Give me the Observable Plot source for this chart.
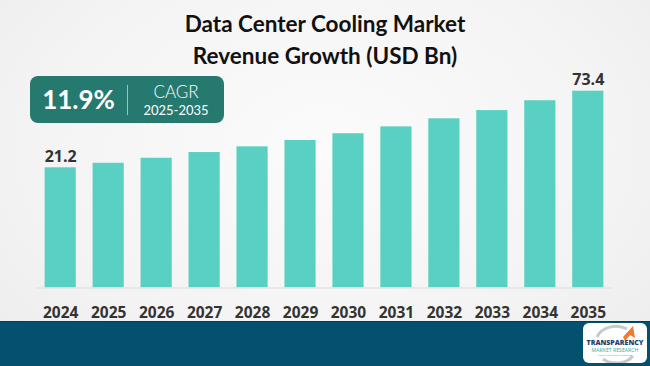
<!DOCTYPE html>
<html>
<head>
<meta charset="utf-8">
<script src="https://cdn.jsdelivr.net/npm/d3@7"></script>
<script src="https://cdn.jsdelivr.net/npm/@observablehq/plot@0.6"></script>
<style>
  html, body { margin: 0; padding: 0; }
  #page {
    position: relative; width: 650px; height: 366px; overflow: hidden;
    background: radial-gradient(ellipse at 50% 40%, #fbfbfb 0%, #f4f4f4 60%, #ececec 100%);
    font-family: "Open Sans", sans-serif;
  }
  #title {
    position: absolute; left: 0; top: 8px; width: 650px; text-align: center;
    font-family: Lato, sans-serif; font-weight: 700; font-size: 22.5px; line-height: 32px; color: #111;
  }
  #chart { position: absolute; left: 0; top: 0; }
  #cagr {
    position: absolute; left: 30px; top: 76px; width: 194px; height: 47px;
    background: #26796e; border-radius: 8px; color: #fff;
  }
  #cagr .big { position: absolute; left: 0; width: 97px; top: 6px; text-align: center;
    font-family: Lato, sans-serif; font-weight: 700; font-size: 26px; line-height: 34px; }
  #cagr .div { position: absolute; left: 97px; top: 9px; width: 1px; height: 30px; background: rgba(255,255,255,0.55); }
  #cagr .lbl { position: absolute; left: 98px; width: 96px; top: 6px; text-align: center;
    font-family: Lato, sans-serif; font-weight: 300; font-size: 17px; line-height: 19px; }
  #cagr .rng { position: absolute; left: 98px; width: 96px; top: 26px; text-align: center;
    font-family: Lato, sans-serif; font-weight: 400; font-size: 13px; line-height: 16px; }
  #band { position: absolute; left: 0; top: 321px; width: 650px; height: 45px; background: #04506f;
    border-top: 1px solid #033f58; }
  #logo { position: absolute; left: 583px; top: 323px; width: 64px; height: 40px; background: #fff; border-radius: 6px; }
</style>
</head>
<body>
<div id="page">
  <div id="title">Data Center Cooling Market<br>Revenue Growth (USD Bn)</div>
  <div id="chart"></div>
  <div id="cagr">
    <div class="big">11.9%</div>
    <div class="div"></div>
    <div class="lbl">CAGR</div>
    <div class="rng">2025-2035</div>
  </div>
  <div id="band"></div>
  <div id="logo">
    <svg width="64" height="40" viewBox="0 0 64 40">
      <path d="M14 14 A20 16 0 0 1 44 6" fill="none" stroke="#c9c9c9" stroke-width="3"/>
      <path d="M50 33 A20 16 0 0 1 20 36" fill="none" stroke="#c9c9c9" stroke-width="3"/>
      <path d="M40 14 L50 3 L52 15 L47 12 L42 18 Z" fill="#f07b2b"/>
      <text x="32" y="22" text-anchor="middle" font-family="Open Sans" font-weight="800" font-size="7" fill="#1d3f6e">TRANSPARENCY</text>
      <text x="32" y="29" text-anchor="middle" font-family="Open Sans" font-size="5.2" fill="#3aa89a">MARKET RESEARCH</text>
      <text x="32" y="33" text-anchor="middle" font-family="Open Sans" font-size="2.4" fill="#8a8a8a">Insights that make a difference</text>
    </svg>
  </div>
</div>
<script>
const years = ["2024","2025","2026","2027","2028","2029","2030","2031","2032","2033","2034","2035"];
const revenue = [21.2, 24.3, 27.7, 31.6, 35.5, 39.8, 44.4, 49.1, 54.6, 60.2, 66.9, 73.4];
const labelledYears = ["2024", "2035"];
const axisFloor = -60.7;

const data = years.map((y, i) => ({year: y, value: revenue[i]}));
const labelled = data.filter(d => labelledYears.includes(d.year));

const chart = Plot.plot({
  width: 650,
  height: 322,
  marginLeft: 36,
  marginRight: 38,
  marginTop: 60,
  marginBottom: 34.5,
  style: {background: "transparent", overflow: "visible"},
  x: {domain: years, paddingInner: 0.35, paddingOuter: 0.18, round: false, label: null},
  y: {domain: [axisFloor, 73.4], range: [287.5, 90.7], axis: null},
  marks: [
    Plot.barY(data, {x: "year", y1: axisFloor, y2: "value", fill: "#5ad0c2"}),
    Plot.ruleY([axisFloor], {stroke: "#e3e3e3", strokeWidth: 1.5}),
    Plot.text(labelled, {x: "year", y: "value", text: d => d.value.toFixed(1), lineAnchor: "bottom", dy: -6,
      fontSize: 16, fontWeight: 700, fill: "#333", fontFamily: "Open Sans"}),
    Plot.axisX({tickSize: 0, tickPadding: 19, fontSize: 15.5, fontWeight: 700, fill: "#333", fontFamily: "Open Sans", label: null})
  ]
});
document.getElementById("chart").appendChild(chart);
</script>
</body>
</html>
